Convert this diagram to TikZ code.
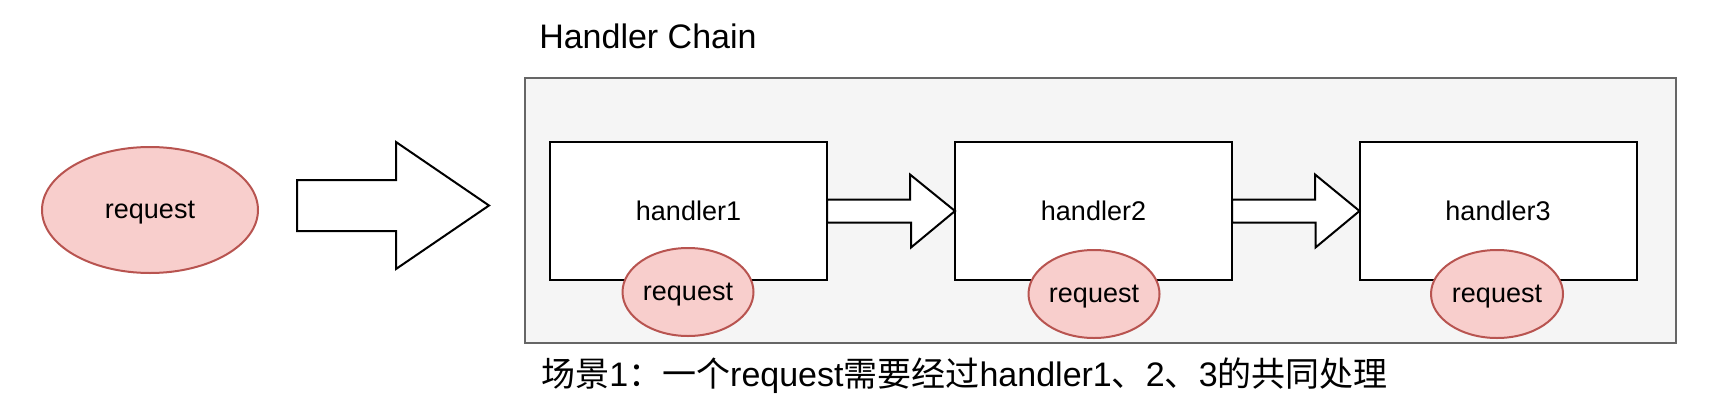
\documentclass[tikz,border=0pt]{standalone}
\usepackage{fontspec}
\setmainfont{Liberation Sans}
\newfontfamily\cjk{Noto Sans CJK SC}
\usepackage{tikz}
\usetikzlibrary{shapes.geometric,calc}

\definecolor{reqfill}{HTML}{F8CECC}
\definecolor{reqline}{HTML}{B85450}
\definecolor{chainfill}{HTML}{F5F5F5}
\definecolor{chainline}{HTML}{666666}

% sizes below are given in pt (1 unit of the picture = 0.75pt)
\tikzset{
  reqnode/.style={ellipse, draw=reqline, fill=reqfill, line width=1.5pt, inner sep=0pt, text depth=0pt, font=\fontsize{20.25pt}{24pt}\selectfont},
  handlerbox/.style={rectangle, draw=black, fill=white, line width=1.5pt, inner sep=0pt, outer sep=0pt, minimum width=207.75pt, minimum height=103.5pt, font=\fontsize{20.25pt}{24pt}\selectfont},
  blockarr/.style={draw=black, fill=white, line width=1.5pt, line join=miter},
  bigtext/.style={inner sep=0pt, anchor=base west, font=\fontsize{25.5pt}{30pt}\selectfont}
}

\begin{document}
\begin{tikzpicture}[x=0.75pt,y=0.75pt,yscale=-1,xscale=1]
  \useasboundingbox (0,0) rectangle (1726,414);
  %Title
  \node[bigtext] (title) at (539,48) {Handler Chain};
  %Shape: Rectangle [chain]
  \node[rectangle, draw=chainline, fill=chainfill, line width=1.5pt, inner sep=0pt, minimum width=863.25pt, minimum height=198.75pt] (chain) at (1100.5,210.5) {};
  %Shape: Ellipse [request]
  \node[reqnode, minimum width=162pt, minimum height=94.5pt] (req) at (150,210) {request};
  %Shape: Right Arrow
  \coordinate (bigtail) at (297,205.5);
  \draw[blockarr] ($(bigtail)+(0,-25.5)$) -- ++(99,0) -- ++(0,-38) -- ++(93,63.5) -- ++(-93,63.5) -- ++(0,-38) -- ++(-99,0) -- cycle;
  %Handlers
  \node[handlerbox] (h1) at (688.5,211) {handler1};
  \node[handlerbox] (h2) at (1093.5,211) {handler2};
  \node[handlerbox] (h3) at (1498,211) {handler3};
  \node[reqnode, minimum width=98.25pt, minimum height=66pt] (r1) at (688,292) {request};
  \node[reqnode, minimum width=98.25pt, minimum height=66pt] (r2) at (1094,294) {request};
  \node[reqnode, minimum width=99pt, minimum height=66pt] (r3) at (1497,294) {request};
  %Right Arrows between handlers
  \draw[blockarr] ($(h1.east)+(0,-11.5)$) -- ++(83,0) -- ++(0,-25) -- (h2.west) -- ++(-44,36.5) -- ++(0,-25) -- ($(h1.east)+(0,11.5)$) -- cycle;
  \draw[blockarr] ($(h2.east)+(0,-11.5)$) -- ++(83,0) -- ++(0,-25) -- (h3.west) -- ++(-44,36.5) -- ++(0,-25) -- ($(h2.east)+(0,11.5)$) -- cycle;
  %Caption
  \node[bigtext] (caption) at (541,386) {{\cjk 场景}1{\cjk ：一个}request{\cjk 需要经过}handler1{\cjk 、}2{\cjk 、}3{\cjk 的共同处理}};
\end{tikzpicture}
\end{document}
